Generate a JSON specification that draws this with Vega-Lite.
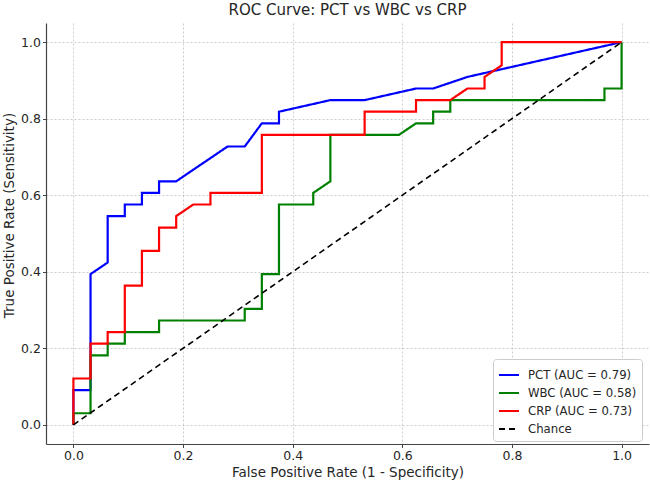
{
  "$schema": "https://vega.github.io/schema/vega-lite/v6.json",
  "autosize": "none",
  "width": 603,
  "height": 421,
  "padding": {"left": 46, "top": 23, "right": 1, "bottom": 38},
  "background": "white",
  "title": {"text": "ROC Curve: PCT vs WBC vs CRP", "font": "DejaVu Sans", "fontSize": 15, "fontWeight": "normal", "color": "#262626", "anchor": "middle", "baseline": "alphabetic", "offset": 6, "dy": 13},
  "config": {
    "view": {"stroke": null},
    "font": "DejaVu Sans",
    "axis": {
      "labelFont": "DejaVu Sans", "labelFontSize": 12.5, "labelColor": "#262626",
      "titleFont": "DejaVu Sans", "titleFontSize": 13.5, "titleFontWeight": "normal", "titleColor": "#262626",
      "domainColor": "#444444", "domainWidth": 1.2, "tickColor": "#444444", "tickSize": 3.5, "tickWidth": 1,
      "gridColor": "#b0b0b0", "gridDash": [2, 2], "gridWidth": 0.8, "gridOpacity": 0.8,
      "labelPadding": 2
    }
  },
  "datasets": {
    "roc": [
      {"series": "PCT (AUC = 0.79)", "i": 0, "fpr": 0, "tpr": 0},
      {"series": "PCT (AUC = 0.79)", "i": 1, "fpr": 0, "tpr": 0.0909},
      {"series": "PCT (AUC = 0.79)", "i": 2, "fpr": 0.03125, "tpr": 0.0909},
      {"series": "PCT (AUC = 0.79)", "i": 3, "fpr": 0.03125, "tpr": 0.3939},
      {"series": "PCT (AUC = 0.79)", "i": 4, "fpr": 0.0625, "tpr": 0.4242},
      {"series": "PCT (AUC = 0.79)", "i": 5, "fpr": 0.0625, "tpr": 0.5455},
      {"series": "PCT (AUC = 0.79)", "i": 6, "fpr": 0.09375, "tpr": 0.5455},
      {"series": "PCT (AUC = 0.79)", "i": 7, "fpr": 0.09375, "tpr": 0.5758},
      {"series": "PCT (AUC = 0.79)", "i": 8, "fpr": 0.125, "tpr": 0.5758},
      {"series": "PCT (AUC = 0.79)", "i": 9, "fpr": 0.125, "tpr": 0.6061},
      {"series": "PCT (AUC = 0.79)", "i": 10, "fpr": 0.15625, "tpr": 0.6061},
      {"series": "PCT (AUC = 0.79)", "i": 11, "fpr": 0.15625, "tpr": 0.6364},
      {"series": "PCT (AUC = 0.79)", "i": 12, "fpr": 0.1875, "tpr": 0.6364},
      {"series": "PCT (AUC = 0.79)", "i": 13, "fpr": 0.28125, "tpr": 0.7273},
      {"series": "PCT (AUC = 0.79)", "i": 14, "fpr": 0.3125, "tpr": 0.7273},
      {"series": "PCT (AUC = 0.79)", "i": 15, "fpr": 0.34375, "tpr": 0.7879},
      {"series": "PCT (AUC = 0.79)", "i": 16, "fpr": 0.375, "tpr": 0.7879},
      {"series": "PCT (AUC = 0.79)", "i": 17, "fpr": 0.375, "tpr": 0.8182},
      {"series": "PCT (AUC = 0.79)", "i": 18, "fpr": 0.46875, "tpr": 0.8485},
      {"series": "PCT (AUC = 0.79)", "i": 19, "fpr": 0.53125, "tpr": 0.8485},
      {"series": "PCT (AUC = 0.79)", "i": 20, "fpr": 0.625, "tpr": 0.8788},
      {"series": "PCT (AUC = 0.79)", "i": 21, "fpr": 0.65625, "tpr": 0.8788},
      {"series": "PCT (AUC = 0.79)", "i": 22, "fpr": 0.71875, "tpr": 0.9091},
      {"series": "PCT (AUC = 0.79)", "i": 23, "fpr": 1, "tpr": 1},

      {"series": "WBC (AUC = 0.58)", "i": 0, "fpr": 0, "tpr": 0},
      {"series": "WBC (AUC = 0.58)", "i": 1, "fpr": 0, "tpr": 0.0303},
      {"series": "WBC (AUC = 0.58)", "i": 2, "fpr": 0.03125, "tpr": 0.0303},
      {"series": "WBC (AUC = 0.58)", "i": 3, "fpr": 0.03125, "tpr": 0.1818},
      {"series": "WBC (AUC = 0.58)", "i": 4, "fpr": 0.0625, "tpr": 0.1818},
      {"series": "WBC (AUC = 0.58)", "i": 5, "fpr": 0.0625, "tpr": 0.2121},
      {"series": "WBC (AUC = 0.58)", "i": 6, "fpr": 0.09375, "tpr": 0.2121},
      {"series": "WBC (AUC = 0.58)", "i": 7, "fpr": 0.09375, "tpr": 0.2424},
      {"series": "WBC (AUC = 0.58)", "i": 8, "fpr": 0.15625, "tpr": 0.2424},
      {"series": "WBC (AUC = 0.58)", "i": 9, "fpr": 0.15625, "tpr": 0.2727},
      {"series": "WBC (AUC = 0.58)", "i": 10, "fpr": 0.3125, "tpr": 0.2727},
      {"series": "WBC (AUC = 0.58)", "i": 11, "fpr": 0.3125, "tpr": 0.3030},
      {"series": "WBC (AUC = 0.58)", "i": 12, "fpr": 0.34375, "tpr": 0.3030},
      {"series": "WBC (AUC = 0.58)", "i": 13, "fpr": 0.34375, "tpr": 0.3939},
      {"series": "WBC (AUC = 0.58)", "i": 14, "fpr": 0.375, "tpr": 0.3939},
      {"series": "WBC (AUC = 0.58)", "i": 15, "fpr": 0.375, "tpr": 0.5758},
      {"series": "WBC (AUC = 0.58)", "i": 16, "fpr": 0.4375, "tpr": 0.5758},
      {"series": "WBC (AUC = 0.58)", "i": 17, "fpr": 0.4375, "tpr": 0.6061},
      {"series": "WBC (AUC = 0.58)", "i": 18, "fpr": 0.46875, "tpr": 0.6364},
      {"series": "WBC (AUC = 0.58)", "i": 19, "fpr": 0.46875, "tpr": 0.7576},
      {"series": "WBC (AUC = 0.58)", "i": 20, "fpr": 0.59375, "tpr": 0.7576},
      {"series": "WBC (AUC = 0.58)", "i": 21, "fpr": 0.625, "tpr": 0.7879},
      {"series": "WBC (AUC = 0.58)", "i": 22, "fpr": 0.65625, "tpr": 0.7879},
      {"series": "WBC (AUC = 0.58)", "i": 23, "fpr": 0.65625, "tpr": 0.8182},
      {"series": "WBC (AUC = 0.58)", "i": 24, "fpr": 0.6875, "tpr": 0.8182},
      {"series": "WBC (AUC = 0.58)", "i": 25, "fpr": 0.6875, "tpr": 0.8485},
      {"series": "WBC (AUC = 0.58)", "i": 26, "fpr": 0.96875, "tpr": 0.8485},
      {"series": "WBC (AUC = 0.58)", "i": 27, "fpr": 0.96875, "tpr": 0.8788},
      {"series": "WBC (AUC = 0.58)", "i": 28, "fpr": 1, "tpr": 0.8788},
      {"series": "WBC (AUC = 0.58)", "i": 29, "fpr": 1, "tpr": 1},

      {"series": "CRP (AUC = 0.73)", "i": 0, "fpr": 0, "tpr": 0},
      {"series": "CRP (AUC = 0.73)", "i": 1, "fpr": 0, "tpr": 0.1212},
      {"series": "CRP (AUC = 0.73)", "i": 2, "fpr": 0.03125, "tpr": 0.1212},
      {"series": "CRP (AUC = 0.73)", "i": 3, "fpr": 0.03125, "tpr": 0.2121},
      {"series": "CRP (AUC = 0.73)", "i": 4, "fpr": 0.0625, "tpr": 0.2121},
      {"series": "CRP (AUC = 0.73)", "i": 5, "fpr": 0.0625, "tpr": 0.2424},
      {"series": "CRP (AUC = 0.73)", "i": 6, "fpr": 0.09375, "tpr": 0.2424},
      {"series": "CRP (AUC = 0.73)", "i": 7, "fpr": 0.09375, "tpr": 0.3636},
      {"series": "CRP (AUC = 0.73)", "i": 8, "fpr": 0.125, "tpr": 0.3636},
      {"series": "CRP (AUC = 0.73)", "i": 9, "fpr": 0.125, "tpr": 0.4545},
      {"series": "CRP (AUC = 0.73)", "i": 10, "fpr": 0.15625, "tpr": 0.4545},
      {"series": "CRP (AUC = 0.73)", "i": 11, "fpr": 0.15625, "tpr": 0.5152},
      {"series": "CRP (AUC = 0.73)", "i": 12, "fpr": 0.1875, "tpr": 0.5152},
      {"series": "CRP (AUC = 0.73)", "i": 13, "fpr": 0.1875, "tpr": 0.5455},
      {"series": "CRP (AUC = 0.73)", "i": 14, "fpr": 0.21875, "tpr": 0.5758},
      {"series": "CRP (AUC = 0.73)", "i": 15, "fpr": 0.25, "tpr": 0.5758},
      {"series": "CRP (AUC = 0.73)", "i": 16, "fpr": 0.25, "tpr": 0.6061},
      {"series": "CRP (AUC = 0.73)", "i": 17, "fpr": 0.34375, "tpr": 0.6061},
      {"series": "CRP (AUC = 0.73)", "i": 18, "fpr": 0.34375, "tpr": 0.7576},
      {"series": "CRP (AUC = 0.73)", "i": 19, "fpr": 0.53125, "tpr": 0.7576},
      {"series": "CRP (AUC = 0.73)", "i": 20, "fpr": 0.53125, "tpr": 0.8182},
      {"series": "CRP (AUC = 0.73)", "i": 21, "fpr": 0.625, "tpr": 0.8182},
      {"series": "CRP (AUC = 0.73)", "i": 22, "fpr": 0.625, "tpr": 0.8485},
      {"series": "CRP (AUC = 0.73)", "i": 23, "fpr": 0.6875, "tpr": 0.8485},
      {"series": "CRP (AUC = 0.73)", "i": 24, "fpr": 0.71875, "tpr": 0.8788},
      {"series": "CRP (AUC = 0.73)", "i": 25, "fpr": 0.75, "tpr": 0.8788},
      {"series": "CRP (AUC = 0.73)", "i": 26, "fpr": 0.75, "tpr": 0.9091},
      {"series": "CRP (AUC = 0.73)", "i": 27, "fpr": 0.78125, "tpr": 0.9394},
      {"series": "CRP (AUC = 0.73)", "i": 28, "fpr": 0.78125, "tpr": 1},
      {"series": "CRP (AUC = 0.73)", "i": 29, "fpr": 1, "tpr": 1},

      {"series": "Chance", "i": 0, "fpr": 0, "tpr": 0},
      {"series": "Chance", "i": 1, "fpr": 1, "tpr": 1}
    ]
  },
  "data": {"name": "roc"},
  "encoding": {
    "x": {"field": "fpr", "type": "quantitative", "title": "False Positive Rate (1 - Specificity)",
      "scale": {"domain": [-0.05, 1.05], "nice": false, "zero": false},
      "axis": {"values": [0, 0.2, 0.4, 0.6, 0.8, 1.0], "format": ".1f", "titlePadding": 3}},
    "y": {"field": "tpr", "type": "quantitative", "title": "True Positive Rate (Sensitivity)",
      "scale": {"domain": [-0.05, 1.05], "nice": false, "zero": false},
      "axis": {"values": [0, 0.2, 0.4, 0.6, 0.8, 1.0], "format": ".1f", "titlePadding": 4, "titleY": 192}},
    "order": {"field": "i", "type": "quantitative"},
    "color": {"field": "series", "type": "nominal", "title": null,
      "scale": {"domain": ["PCT (AUC = 0.79)", "WBC (AUC = 0.58)", "CRP (AUC = 0.73)", "Chance"], "range": ["#0000ff", "#008000", "#ff0000", "#000000"]},
      "legend": {"orient": "none", "legendX": 447, "legendY": 336, "symbolType": "stroke", "symbolSize": 400, "symbolStrokeWidth": 2, "labelFontSize": 11.7, "labelFont": "DejaVu Sans", "labelColor": "#262626", "fillColor": "white", "strokeColor": "#cccccc", "cornerRadius": 3, "padding": 5, "rowPadding": 0, "labelOffset": 8}},
    "strokeDash": {"field": "series", "type": "nominal", "title": null,
      "scale": {"domain": ["PCT (AUC = 0.79)", "WBC (AUC = 0.58)", "CRP (AUC = 0.73)", "Chance"], "range": [[1, 0], [1, 0], [1, 0], [6, 4]]}}
  },
  "layer": [
    {"transform": [{"filter": "datum.series === 'PCT (AUC = 0.79)'"}], "mark": {"type": "line", "strokeWidth": 2.2}},
    {"transform": [{"filter": "datum.series === 'WBC (AUC = 0.58)'"}], "mark": {"type": "line", "strokeWidth": 2.2}},
    {"transform": [{"filter": "datum.series === 'CRP (AUC = 0.73)'"}], "mark": {"type": "line", "strokeWidth": 2.2}},
    {"transform": [{"filter": "datum.series === 'Chance'"}], "mark": {"type": "line", "strokeWidth": 1.6}}
  ]
}
